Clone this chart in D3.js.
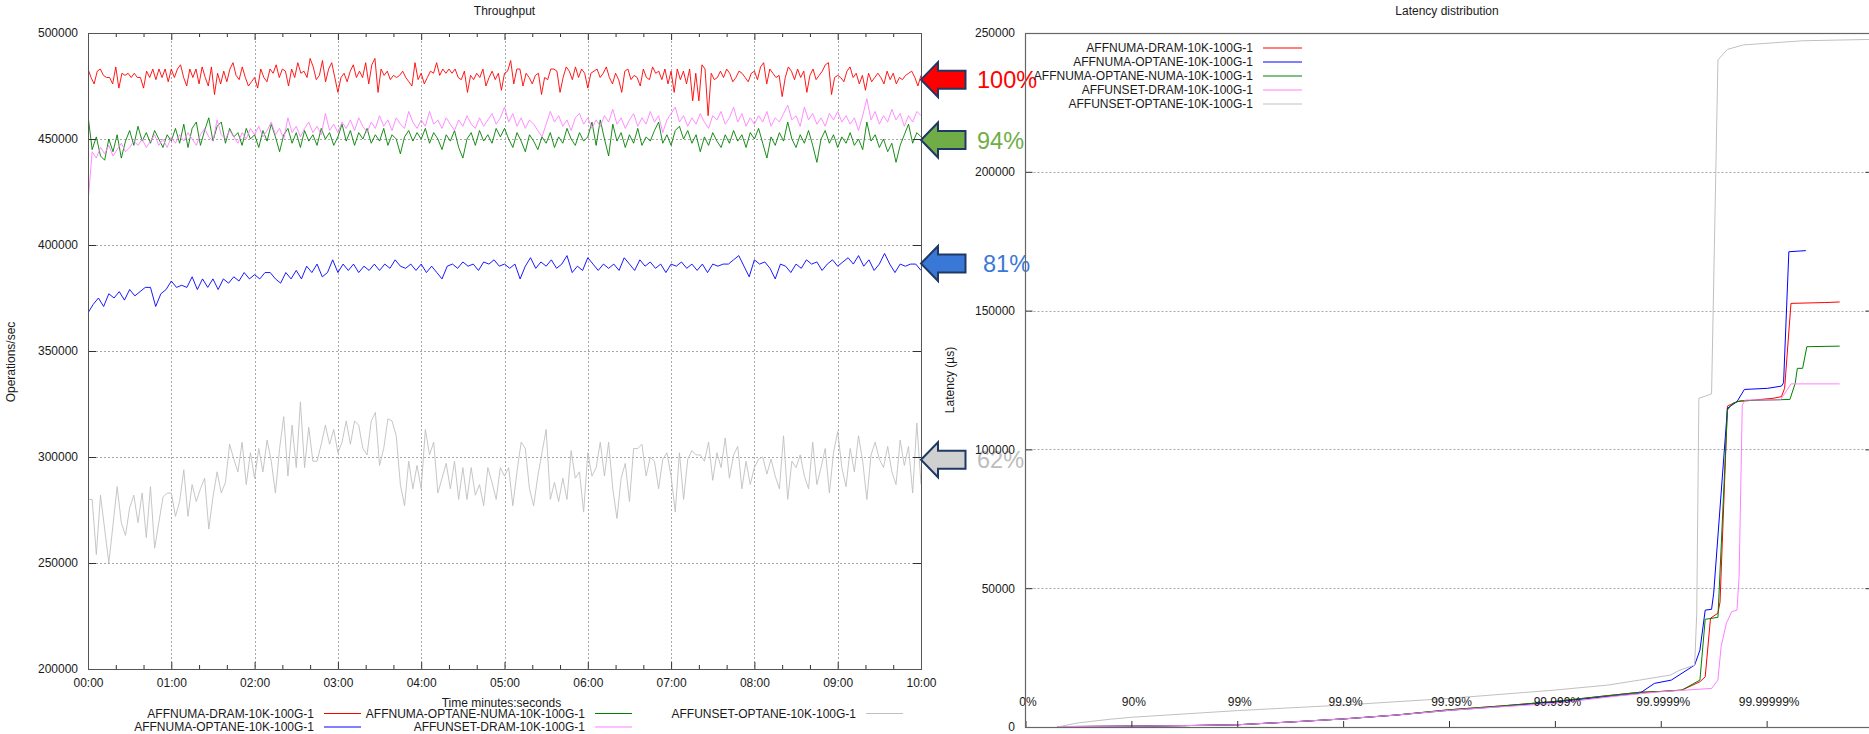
<!DOCTYPE html>
<html>
<head>
<meta charset="utf-8">
<script src="https://cdnjs.cloudflare.com/ajax/libs/d3/7.8.5/d3.min.js"></script>
<style>
  html, body { margin: 0; padding: 0; background: #fff; }
  svg { display: block; }
</style>
</head>
<body>
<svg id="chart" width="1869" height="734"></svg>
<script>
// ---- series ----
const seriesNames = [
  'AFFNUMA-DRAM-10K-100G-1',
  'AFFNUMA-OPTANE-10K-100G-1',
  'AFFNUMA-OPTANE-NUMA-10K-100G-1',
  'AFFUNSET-DRAM-10K-100G-1',
  'AFFUNSET-OPTANE-10K-100G-1'
];
const seriesColors = ['#ff0000', '#0000ff', '#008000', '#ff80ff', '#c0c0c0'];

// Throughput in thousands of ops/sec, samples evenly spaced from 00:00 to 10:00
const tputNumaDram = [
  483,479,476,482,483,480,479,479,476,484,474,481,480,481,479,481,479,479,474,482,
  479,483,478,483,479,483,477,483,479,483,485,479,475,483,479,483,476,484,479,475,
  484,471,481,476,482,477,483,486,480,478,484,479,475,477,479,474,483,479,477,483,
  481,485,479,483,482,475,483,479,486,481,482,479,488,484,478,480,487,477,483,486,
  479,472,479,481,477,482,485,479,482,479,486,476,485,488,472,483,480,482,478,480,
  479,480,482,479,477,475,486,478,481,476,479,482,481,486,480,483,481,483,481,483,
  479,478,482,472,480,478,481,479,483,475,479,482,478,481,473,481,
  482,487,476,483,483,475,481,479,476,480,481,471,479,478,483,483,482,472,479,484,
  482,478,484,479,483,481,474,481,482,483,479,481,484,479,476,481,478,472,482,483,
  478,480,479,475,483,479,478,484,481,482,478,483,476,482,472,483,478,482,476,483,
  468,481,468,485,483,461,481,478,479,482,479,483,481,477,479,482,481,479,477,481,
  482,478,484,486,476,483,481,479,480,470,479,484,482,478,483,479,482,472,480,483,
  478,480,482,485,486,471,479,480,479,477,482,484,479,481,476,480,473,481,477,479,
  481,479,476,482,478,481,476,479,478,480,481,482,479,475,480
];
const tputNumaOptane = [
  368,372,375,371,377,375,378,374,379,376,378,380,380,371,377,379,383,380,381,380,
  385,379,384,380,384,379,384,382,385,383,387,384,386,384,387,387,384,382,387,384,
  388,384,390,387,391,385,387,393,387,391,388,391,387,390,388,391,388,391,389,393,
  390,389,391,388,391,387,390,387,384,390,391,389,392,390,391,388,392,391,393,390,
  391,389,391,384,390,394,389,392,390,393,389,391,395,387,390,388,394,391,388,391,
  389,391,388,394,391,388,393,390,392,389,391,387,391,390,392,389,391,388,391,387,
  391,390,391,391,393,395,390,385,393,391,392,389,384,391,390,387,391,389,393,391,
  392,388,391,393,390,392,394,391,395,390,393,388,391,396,391,387,391,390,391,391,388
];
const tputNumaOptaneNuma = [
  461,445,451,442,440,450,444,452,441,449,454,447,456,449,453,448,454,450,446,452,
  449,455,448,457,446,455,458,447,454,460,449,456,458,448,455,451,453,447,455,450,
  452,446,454,449,457,451,444,452,455,448,453,446,454,449,452,447,455,450,453,447,
  451,457,449,454,447,453,450,455,448,452,449,455,447,452,450,443,451,454,449,453,
  450,455,448,453,450,445,452,449,454,446,441,450,453,447,454,449,452,448,455,451,
  455,
  450,446,453,449,444,452,449,445,451,448,453,446,451,448,455,450,447,453,449,451,
  458,447,459,450,442,457,449,453,446,452,448,455,447,451,449,454,458,448,452,447,
  454,456,450,454,448,452,444,451,447,453,449,446,452,448,454,449,452,446,453,450,
  455,448,441,451,447,453,449,458,450,446,452,448,454,447,439,450,454,448,452,446,
  451,448,453,447,450,445,458,449,452,446,450,444,448,439,447,452,457,448,453,451
];
const tputUnsetDram = [
  420,444,441,446,443,447,442,445,448,444,446,449,447,450,446,449,452,447,450,446,
  451,448,452,449,453,450,447,452,455,451,449,459,452,450,454,451,448,453,450,455,
  452,456,451,454,458,452,455,450,460,453,456,451,455,458,453,456,452,462,454,457,
  453,458,455,459,454,460,456,453,458,455,461,456,459,454,460,457,455,463,458,455,
  459,456,463,457,459,455,460,457,454,459,456,461,457,455,460,456,459,462,457,460,
  465,
  458,462,456,460,455,459,457,454,451,457,463,458,461,456,459,454,460,462,457,460,
  455,459,456,461,458,464,457,460,455,459,462,456,460,457,463,458,461,453,459,462,
  465,458,461,456,460,457,462,458,455,461,459,463,457,460,465,458,462,456,460,457,
  461,458,463,456,460,458,462,466,459,461,456,465,459,462,457,460,456,462,459,463,
  458,461,457,460,454,461,469,459,463,457,461,458,464,459,462,456,461,458,463,461
];
const tputUnsetOptane = [
  280,280,254,282,266,250,268,286,269,263,276,282,269,283,262,286,257,269,281,283,
  283,272,279,294,272,287,279,285,290,266,281,293,283,288,306,299,293,307,287,302,
  290,304,293,308,298,283,304,319,291,315,295,326,295,314,298,298,306,315,306,313,
  302,307,317,306,317,315,304,301,317,321,296,304,318,317,310,287,277,298,285,296,
  285,313,301,307,283,290,297,285,298,280,295,280,295,282,287,277,295,288,280,295,
  291,
  295,277,293,307,304,285,277,291,302,313,280,288,279,290,280,303,290,293,274,302,
  291,295,307,291,307,285,271,290,297,279,304,304,306,291,300,298,285,299,302,291,
  274,302,280,299,303,301,301,298,307,289,302,295,309,290,301,305,285,298,287,295,
  299,300,292,299,291,285,310,280,298,295,301,291,285,307,287,295,304,283,302,312,
  295,286,304,293,310,298,280,301,307,299,295,305,293,287,308,296,305,283,316,287
];
const tputSeries = [tputNumaDram, tputNumaOptane, tputNumaOptaneNuma, tputUnsetDram, tputUnsetOptane];

// Relative throughput call-outs (kops/s level each arrow points at)
const arrowValues = [478, 449.5, 391.3, 298.7];
const arrowLabels = ['100%', '94%', '81%', '62%'];
const arrowFills = ['#ff0000', '#70ad47', '#3a78d8', '#d0d0d0'];
const arrowTextColors = ['#ff0000', '#70ad47', '#3a78d8', '#bdbdbd'];

// Latency distribution: x is the percentile written as its count of nines
// (0.3 = 50%, 1 = 90%, 2 = 99% ...), y is latency in microseconds
const latNinesNumaDram = [0.3, 1, 1.5, 2, 2.5, 3, 3.5, 4, 4.5, 5, 5.5, 5.8, 6.0, 6.2, 6.37, 6.42, 6.47, 6.54, 6.56, 6.63, 6.72, 7.06, 7.14, 7.17, 7.23, 7.55, 7.69];
const latUsNumaDram = [150, 300, 500, 800, 1800, 2900, 4300, 6200, 7600, 9200, 11300, 12500, 12800, 13300, 16300, 18100, 39200, 41000, 45000, 115600, 117200, 118400, 119000, 122000, 152600, 152900, 153100];
const latNinesNumaOptane = [0.3, 1, 1.5, 2, 2.5, 3, 3.5, 4, 4.5, 5, 5.5, 5.8, 5.94, 6.10, 6.32, 6.37, 6.42, 6.48, 6.50, 6.63, 6.72, 6.79, 7.01, 7.14, 7.16, 7.21, 7.37];
const latUsNumaOptane = [150, 300, 500, 800, 1800, 2900, 4300, 6000, 7400, 9000, 11000, 12100, 15700, 16900, 22300, 27700, 42100, 42400, 48200, 114800, 117200, 121600, 122000, 122800, 124000, 171200, 171600];
const latNinesNumaOptaneNuma = [0.3, 1, 1.5, 2, 2.5, 3, 3.5, 4, 4.5, 5, 5.5, 5.8, 6.0, 6.2, 6.37, 6.42, 6.54, 6.63, 6.68, 6.75, 7.22, 7.27, 7.29, 7.34, 7.38, 7.69];
const latUsNumaOptaneNuma = [150, 300, 500, 800, 1800, 2900, 4300, 6200, 7600, 9200, 11300, 12500, 12800, 13300, 16900, 38800, 39500, 114200, 116600, 117500, 118000, 123800, 129200, 129200, 137000, 137200];
const latNinesUnsetDram = [0.3, 1, 1.5, 2, 2.5, 3, 3.5, 4, 4.5, 5, 5.6, 6.0, 6.48, 6.54, 6.57, 6.62, 6.67, 6.72, 6.74, 6.77, 6.80, 7.13, 7.23, 7.69];
const latUsUnsetDram = [150, 300, 500, 800, 1800, 2900, 4300, 6000, 7300, 8500, 11200, 12700, 13900, 16900, 28900, 37400, 41500, 42100, 54100, 116000, 117800, 117800, 123600, 123600];
const latNinesUnsetOptane = [0.3, 0.5, 0.8, 1, 2, 3, 4, 5, 5.5, 5.8, 6.09, 6.18, 6.32, 6.34, 6.36, 6.48, 6.54, 6.63, 6.78, 7.34, 8];
const latUsUnsetOptane = [0, 1500, 2800, 3500, 5900, 7900, 10300, 13300, 15100, 16900, 18700, 20500, 22300, 41000, 118400, 120000, 240300, 244100, 245700, 247200, 247700];
const latSeries = [
  [latNinesNumaDram, latUsNumaDram],
  [latNinesNumaOptane, latUsNumaOptane],
  [latNinesNumaOptaneNuma, latUsNumaOptaneNuma],
  [latNinesUnsetDram, latUsUnsetDram],
  [latNinesUnsetOptane, latUsUnsetOptane]
];

const timeTicks = d3.range(0, 601, 60);
const timeMinorTicks = d3.range(20, 600, 20).filter(s => s % 60 !== 0);
const tputTicks = [200, 250, 300, 350, 400, 450, 500];
const latYTicks = [0, 50000, 100000, 150000, 200000, 250000];
const latXTicks = [0, 1, 2, 3, 4, 5, 6, 7];
const latXTickLabels = ['0%', '90%', '99%', '99.9%', '99.99%', '99.999%', '99.9999%', '99.99999%'];

// ---- layout ----
const FONT = '"Liberation Sans", Arial, sans-serif';
const TEXT = '#1a1a1a';
const FRAME = '#555';
const GRID = '#a8a8a8';

const tp = { left: 88, right: 921, top: 33, bottom: 669 };
const lt = { left: 1025.5, right: 1872.5, top: 33, bottom: 727 };

const svg = d3.select('#chart')
  .attr('font-family', FONT);

svg.append('rect').attr('width', 1869).attr('height', 734).attr('fill', '#fff');

const defs = svg.append('defs');
defs.append('clipPath').attr('id', 'clipTp').append('rect')
  .attr('x', tp.left).attr('y', tp.top)
  .attr('width', tp.right - tp.left).attr('height', tp.bottom - tp.top);
defs.append('clipPath').attr('id', 'clipLt').append('rect')
  .attr('x', lt.left).attr('y', lt.top)
  .attr('width', lt.right - lt.left).attr('height', lt.bottom - lt.top);

function styleAxis(g) {
  g.attr('font-family', FONT).attr('font-size', 12).attr('color', '#333');
  g.select('.domain').remove();
  g.selectAll('text').attr('fill', TEXT);
}

const fmt2 = d3.format('02');
const fmtTime = s => fmt2(Math.floor(s / 60)) + ':' + fmt2(s % 60);

// =================== Throughput ===================
const x = d3.scaleLinear().domain([0, 600]).range([tp.left, tp.right]);
const y = d3.scaleLinear().domain([200, 500]).range([tp.bottom, tp.top]);

// grid
const tpGrid = svg.append('g')
  .attr('stroke', GRID).attr('stroke-width', 1).attr('stroke-dasharray', '2,2');
timeTicks.slice(1, -1).forEach(t => {
  tpGrid.append('line')
    .attr('x1', Math.round(x(t)) + 0.5).attr('x2', Math.round(x(t)) + 0.5)
    .attr('y1', tp.top).attr('y2', tp.bottom);
});
tputTicks.slice(1, -1).forEach(v => {
  tpGrid.append('line')
    .attr('x1', tp.left).attr('x2', tp.right)
    .attr('y1', Math.round(y(v)) + 0.5).attr('y2', Math.round(y(v)) + 0.5);
});

// data lines
const tpLines = svg.append('g').attr('clip-path', 'url(#clipTp)');
tputSeries.forEach((values, si) => {
  const line = d3.line()
    .x((d, i, data) => x(i * 600 / (data.length - 1)))
    .y(d => y(d));
  tpLines.append('path')
    .datum(values)
    .attr('fill', 'none')
    .attr('stroke', seriesColors[si])
    .attr('stroke-width', 0.9)
    .attr('stroke-linejoin', 'round')
    .attr('d', line);
});

// axes
svg.append('g')
  .attr('transform', `translate(0,${tp.bottom})`)
  .call(d3.axisBottom(x).tickValues(timeTicks).tickFormat(fmtTime)
    .tickSizeInner(-7).tickSizeOuter(0).tickPadding(9.5))
  .call(styleAxis);
svg.append('g')
  .attr('transform', `translate(0,${tp.bottom})`)
  .call(d3.axisBottom(x).tickValues(timeMinorTicks).tickFormat('')
    .tickSizeInner(-4).tickSizeOuter(0))
  .call(styleAxis);
svg.append('g')
  .attr('transform', `translate(0,${tp.top})`)
  .call(d3.axisTop(x).tickValues(timeTicks).tickFormat('')
    .tickSizeInner(-7).tickSizeOuter(0))
  .call(styleAxis);
svg.append('g')
  .attr('transform', `translate(0,${tp.top})`)
  .call(d3.axisTop(x).tickValues(timeMinorTicks).tickFormat('')
    .tickSizeInner(-4).tickSizeOuter(0))
  .call(styleAxis);
svg.append('g')
  .attr('transform', `translate(${tp.left},0)`)
  .call(d3.axisLeft(y).tickValues(tputTicks).tickFormat(d => d * 1000)
    .tickSizeInner(-8).tickSizeOuter(0).tickPadding(10))
  .call(styleAxis);
svg.append('g')
  .attr('transform', `translate(${tp.right},0)`)
  .call(d3.axisRight(y).tickValues(tputTicks).tickFormat('')
    .tickSizeInner(-8).tickSizeOuter(0))
  .call(styleAxis);

svg.append('rect')
  .attr('x', tp.left + 0.5).attr('y', tp.top + 0.5)
  .attr('width', tp.right - tp.left).attr('height', tp.bottom - tp.top)
  .attr('fill', 'none').attr('stroke', FRAME).attr('stroke-width', 1);

svg.append('text')
  .attr('x', (tp.left + tp.right) / 2).attr('y', 15)
  .attr('text-anchor', 'middle').attr('font-size', 12).attr('fill', TEXT)
  .text('Throughput');

svg.append('text')
  .attr('x', (tp.left + tp.right) / 2 - 3).attr('y', 707)
  .attr('text-anchor', 'middle').attr('font-size', 12).attr('fill', TEXT)
  .text('Time minutes:seconds');

svg.append('text')
  .attr('transform', 'translate(15,362) rotate(-90)')
  .attr('text-anchor', 'middle').attr('font-size', 12).attr('fill', TEXT)
  .text('Operations/sec');

// bottom legend, two rows per column
const legendColRight = [314, 585, 856];
const legendRowY = [713.5, 727];
seriesNames.forEach((name, i) => {
  const col = Math.floor(i / 2);
  const row = i % 2;
  const lx = legendColRight[col];
  const ly = legendRowY[row];
  svg.append('text')
    .attr('x', lx).attr('y', ly + 4)
    .attr('text-anchor', 'end').attr('font-size', 12).attr('fill', TEXT)
    .text(name);
  svg.append('line')
    .attr('x1', lx + 10).attr('x2', lx + 47)
    .attr('y1', ly).attr('y2', ly)
    .attr('stroke', seriesColors[i]).attr('stroke-width', 1.2);
});

// call-out arrows on the right edge of the throughput plot
arrowValues.forEach((v, i) => {
  const cy = y(v);
  const tip = tp.right;
  const pts = [
    [tip, cy], [tip + 17, cy - 17.5], [tip + 17, cy - 9], [tip + 44.5, cy - 9],
    [tip + 44.5, cy + 9], [tip + 17, cy + 9], [tip + 17, cy + 17.5]
  ];
  svg.append('path')
    .attr('d', 'M' + pts.map(p => p.join(',')).join('L') + 'Z')
    .attr('fill', arrowFills[i])
    .attr('stroke', '#1f3864')
    .attr('stroke-width', 2)
    .attr('stroke-linejoin', 'miter');
  svg.append('text')
    .attr('x', tip + 56 + (i === 2 ? 6 : 0))
    .attr('y', cy + 8.5)
    .attr('font-size', 23.5)
    .attr('fill', arrowTextColors[i])
    .text(arrowLabels[i]);
});

// =================== Latency distribution ===================
const xl = d3.scaleLinear().domain([0, 8]).range([lt.left, lt.right]);
const yl = d3.scaleLinear().domain([0, 250000]).range([lt.bottom, lt.top]);

const ltGrid = svg.append('g')
  .attr('stroke', GRID).attr('stroke-width', 1).attr('stroke-dasharray', '2,2');
latYTicks.slice(1, -1).forEach(v => {
  ltGrid.append('line')
    .attr('x1', lt.left).attr('x2', lt.right)
    .attr('y1', Math.round(yl(v)) + 0.5).attr('y2', Math.round(yl(v)) + 0.5);
});

const ltLines = svg.append('g').attr('clip-path', 'url(#clipLt)');
latSeries.forEach(([nines, us], si) => {
  const line = d3.line()
    .x((d, i) => xl(nines[i]))
    .y(d => yl(d));
  ltLines.append('path')
    .datum(us)
    .attr('fill', 'none')
    .attr('stroke', seriesColors[si])
    .attr('stroke-width', 1)
    .attr('stroke-linejoin', 'round')
    .attr('d', line);
});

svg.append('g')
  .attr('transform', `translate(${lt.left},0)`)
  .call(d3.axisLeft(yl).tickValues(latYTicks).tickFormat(d3.format('d'))
    .tickSizeInner(-7).tickSizeOuter(0).tickPadding(10.5))
  .call(styleAxis);
svg.append('g')
  .attr('transform', `translate(${lt.right},0)`)
  .call(d3.axisRight(yl).tickValues(latYTicks).tickFormat('')
    .tickSizeInner(-7).tickSizeOuter(0))
  .call(styleAxis);
svg.append('g')
  .attr('transform', `translate(0,${lt.bottom})`)
  .call(d3.axisBottom(xl).tickValues(latXTicks).tickFormat((d, i) => latXTickLabels[i])
    .tickSizeInner(-6).tickSizeOuter(0))
  .call(styleAxis)
  .call(g => g.selectAll('text').attr('y', -21).attr('dy', 0).attr('dx', 2));

svg.append('rect')
  .attr('x', lt.left).attr('y', lt.top + 0.5)
  .attr('width', lt.right - lt.left).attr('height', lt.bottom - lt.top)
  .attr('fill', 'none').attr('stroke', '#666').attr('stroke-width', 1.2);

svg.append('text')
  .attr('x', 1447).attr('y', 15)
  .attr('text-anchor', 'middle').attr('font-size', 12).attr('fill', TEXT)
  .text('Latency distribution');

svg.append('text')
  .attr('transform', `translate(954,${(lt.top + lt.bottom) / 2}) rotate(-90)`)
  .attr('text-anchor', 'middle').attr('font-size', 12).attr('fill', TEXT)
  .text('Latency (µs)');

// legend inside the latency plot
seriesNames.forEach((name, i) => {
  const ly = 48 + i * 14;
  svg.append('text')
    .attr('x', 1253).attr('y', ly + 4)
    .attr('text-anchor', 'end').attr('font-size', 12).attr('fill', TEXT)
    .text(name);
  svg.append('line')
    .attr('x1', 1263).attr('x2', 1302)
    .attr('y1', ly).attr('y2', ly)
    .attr('stroke', seriesColors[i]).attr('stroke-width', 1.2);
});
</script>
</body>
</html>
